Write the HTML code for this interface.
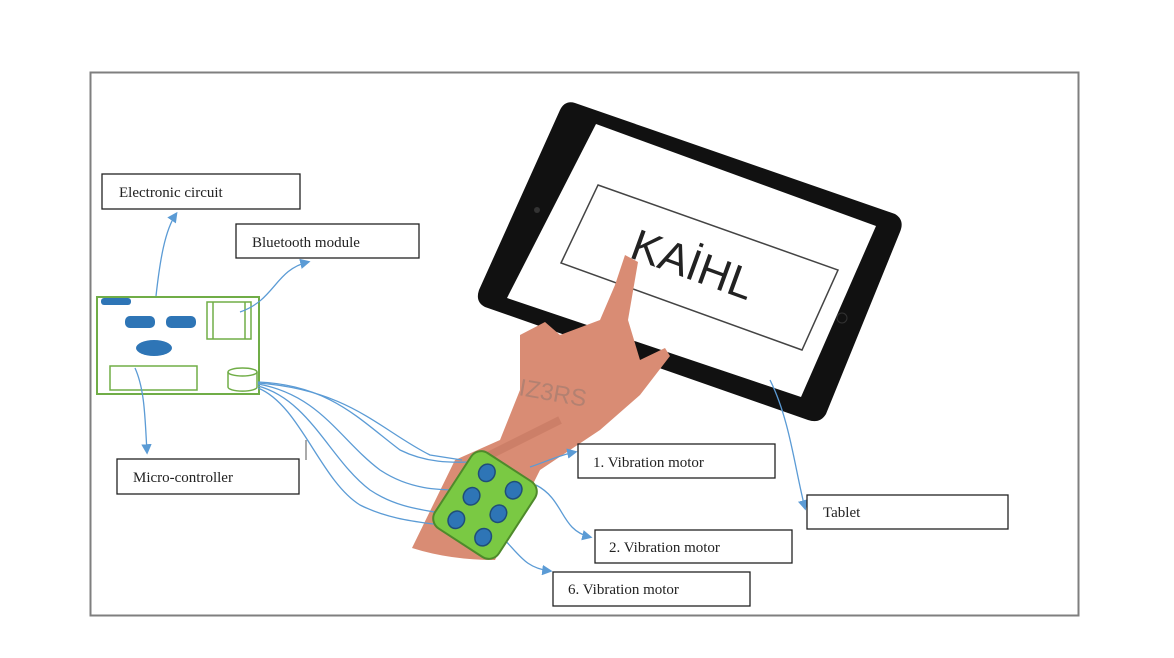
<!DOCTYPE html>
<html><head><meta charset="utf-8"><style>
html,body{margin:0;padding:0;background:#fff;}
svg{display:block}
text{font-family:"Liberation Serif",serif;font-size:15px;fill:#222}
</style></head><body>
<svg width="1174" height="658" viewBox="0 0 1174 658" xmlns="http://www.w3.org/2000/svg">
<defs>
<marker id="a" markerWidth="8" markerHeight="8" refX="6" refY="4" orient="auto"><path d="M0,0L8,4L0,8z" fill="#5b9bd5"/></marker>
</defs>
<rect x="90.5" y="72.5" width="988" height="543" fill="#fff" stroke="#7f7f7f" stroke-width="2"/>
<!-- tablet -->
<path d="M575,103 L895,214 Q905,220 900,232 L826,414 Q820,424 808,420 L485,307 Q475,302 479,290 L560,110 Q565,100 575,103Z" fill="#111"/>
<path d="M596,124 L876,226 L801,397 L507,298Z" fill="#fff"/>
<path d="M598,185 L838,270 L802,350 L561,263Z" fill="#fff" stroke="#444" stroke-width="1.5"/>
<text x="0" y="0" transform="translate(628,257) rotate(20)" style="font-family:'Liberation Sans',sans-serif;font-size:44px;fill:#222">KAİHL</text>
<circle cx="537" cy="210" r="3" fill="#333"/>
<circle cx="842" cy="318" r="5" fill="none" stroke="#333"/>
<!-- hand -->
<path d="M412,548 L455,460 L500,440 L520,390 L520,335 L545,322 L560,335 L600,320 L615,285 L625,255 L638,262 L628,320 L640,360 L665,348 L670,356 L640,395 L600,430 L540,470 L495,560 Q450,560 412,548Z" fill="#d98c74"/>
<path d="M470,465 L520,440 L560,420" stroke="#c0725c" stroke-width="8" fill="none" opacity=".5"/>
<text x="0" y="0" transform="translate(518,395) rotate(10)" style="font-family:'Liberation Sans',sans-serif;font-size:24px;fill:#9a7a70;opacity:.6">IZ3RS</text>
<!-- circuit board -->
<rect x="97" y="297" width="162" height="97" fill="#fff" stroke="#70ad47" stroke-width="2"/>
<rect x="101" y="298" width="30" height="7" rx="3" fill="#2e75b6"/>
<rect x="125" y="316" width="30" height="12" rx="5" fill="#2e75b6"/>
<rect x="166" y="316" width="30" height="12" rx="5" fill="#2e75b6"/>
<ellipse cx="154" cy="348" rx="18" ry="8" fill="#2e75b6"/>
<rect x="207" y="302" width="44" height="37" fill="none" stroke="#70ad47" stroke-width="1.5"/>
<line x1="213" y1="302" x2="213" y2="339" stroke="#70ad47" stroke-width="1.5"/>
<line x1="245" y1="302" x2="245" y2="339" stroke="#70ad47" stroke-width="1.5"/>
<rect x="110" y="366" width="87" height="24" fill="none" stroke="#70ad47" stroke-width="1.5"/>
<path d="M228,372 v15 a14,4 0 0 0 29,0 v-15" fill="none" stroke="#70ad47" stroke-width="1.5"/>
<ellipse cx="242.5" cy="372" rx="14.5" ry="4" fill="none" stroke="#70ad47" stroke-width="1.5"/>
<!-- connectors -->
<g fill="none" stroke="#5b9bd5" stroke-width="1.3">
<path d="M156,296 C160,260 165,230 176,214" marker-end="url(#a)"/>
<path d="M240,312 C275,300 275,270 308,262" marker-end="url(#a)"/>
<path d="M135,368 C145,390 145,420 147,452" marker-end="url(#a)"/>
<path d="M770,380 C790,420 795,470 805,508" marker-end="url(#a)"/>
<path d="M258,382 C330,385 360,420 400,450 C430,465 460,462 470,462"/>
<path d="M258,384 C320,395 340,440 380,470 C410,490 440,490 460,490"/>
<path d="M258,386 C310,400 330,460 370,490 C400,510 430,510 450,515"/>
<path d="M258,388 C300,405 320,480 360,505 C390,520 420,522 440,525"/>
<path d="M258,383 C350,390 380,430 430,455 L462,460"/>
<path d="M530,467 C545,462 560,455 575,452" marker-end="url(#a)"/>
<path d="M536,485 C565,500 560,530 590,537" marker-end="url(#a)"/>
<path d="M500,535 C520,555 525,568 550,571" marker-end="url(#a)"/>
</g>
<!-- band -->
<g transform="translate(485,505) rotate(33)">
<rect x="-38" y="-45" width="76" height="90" rx="12" fill="#7ac943" stroke="#4e8a2b" stroke-width="2"/>
<g fill="#2e75b6" stroke="#1f4e79" stroke-width="1.5">
<ellipse cx="-16" cy="-28" rx="8" ry="9"/><ellipse cx="16" cy="-28" rx="8" ry="9"/>
<ellipse cx="-16" cy="0" rx="8" ry="9"/><ellipse cx="16" cy="0" rx="8" ry="9"/>
<ellipse cx="-16" cy="28" rx="8" ry="9"/><ellipse cx="16" cy="28" rx="8" ry="9"/>
</g></g>
<!-- labels -->
<g fill="#fff" stroke="#222" stroke-width="1.3">
<rect x="102" y="174" width="198" height="35"/>
<rect x="236" y="224" width="183" height="34"/>
<rect x="117" y="459" width="182" height="35"/>
<rect x="578" y="444" width="197" height="34"/>
<rect x="807" y="495" width="201" height="34"/>
<rect x="595" y="530" width="197" height="33"/>
<rect x="553" y="572" width="197" height="34"/>
</g>
<line x1="306" y1="440" x2="306" y2="460" stroke="#555"/>
<text x="119" y="197">Electronic circuit</text>
<text x="252" y="247">Bluetooth module</text>
<text x="133" y="482">Micro-controller</text>
<text x="593" y="467">1. Vibration motor</text>
<text x="823" y="517">Tablet</text>
<text x="609" y="552">2. Vibration motor</text>
<text x="568" y="594">6. Vibration motor</text>
</svg>
</body></html>
